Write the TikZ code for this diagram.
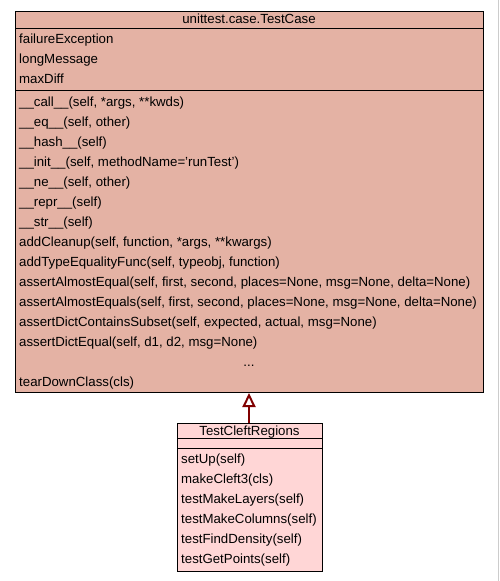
\documentclass[tikz,border=0pt]{standalone}
\usepackage{fontspec}
\setmainfont{Liberation Sans}
\usetikzlibrary{arrows.meta}
\definecolor{basefill}{RGB}{228,178,164}
\definecolor{subfill}{RGB}{255,214,214}
\definecolor{arrowred}{RGB}{128,0,0}
\begin{document}
\begin{tikzpicture}[x=1pt,y=-1pt,
  box/.style={draw=black, line width=1pt, rectangle, inner sep=0pt, anchor=north west},
  row/.style={anchor=base west, inner sep=0pt, font=\fontsize{13.25}{14}\selectfont},
  title/.style={anchor=base, inner sep=0pt, font=\fontsize{13.25}{14}\selectfont},
  inherit/.style={draw=arrowred, line width=2pt, -{Triangle[open, length=14pt, width=13pt, line width=2pt]}}]
\useasboundingbox (0,0) rectangle (499,581);
\fill[white] (0,0) rectangle (499,581);
\draw[gray!40, line width=1pt] (498.5,0) -- (498.5,581);
% base class
\node[box, fill=basefill, minimum width=468pt, minimum height=381pt] (base) at (15,11) {};
\draw[line width=1pt] (15,28) -- (483,28);
\draw[line width=1pt] (15,90) -- (483,90);
\node[title] (bt) at (249,23.5) {unittest.case.TestCase};
\foreach \t [count=\i] in {failureException,longMessage,maxDiff}
  \node[row] (ba\i) at (19,{23+20*\i}) {\t};
\node[row] (bm1) at (19,106) {\_\_call\_\_(self, *args, **kwds)};
\node[row] (bm2) at (19,126) {\_\_eq\_\_(self, other)};
\node[row] (bm3) at (19,146) {\_\_hash\_\_(self)};
\node[row] (bm4) at (19,166) {\_\_init\_\_(self, methodName='runTest')};
\node[row] (bm5) at (19,186) {\_\_ne\_\_(self, other)};
\node[row] (bm6) at (19,206) {\_\_repr\_\_(self)};
\node[row] (bm7) at (19,226) {\_\_str\_\_(self)};
\node[row] (bm8) at (19,246) {addCleanup(self, function, *args, **kwargs)};
\node[row] (bm9) at (19,266) {addTypeEqualityFunc(self, typeobj, function)};
\node[row] (bm10) at (19,286) {assertAlmostEqual(self, first, second, places=None, msg=None, delta=None)};
\node[row] (bm11) at (19,306) {assertAlmostEquals(self, first, second, places=None, msg=None, delta=None)};
\node[row] (bm12) at (19,326) {assertDictContainsSubset(self, expected, actual, msg=None)};
\node[row] (bm13) at (19,346) {assertDictEqual(self, d1, d2, msg=None)};
\node[title] (bdots) at (249,366) {...};
\node[row] (bm14) at (19,386) {tearDownClass(cls)};
% subclass
\node[box, fill=subfill, minimum width=145pt, minimum height=148pt] (sub) at (177,423) {};
\draw[line width=1pt] (177,438) -- (322,438);
\draw[line width=1pt] (177,448) -- (322,448);
\node[title] (st) at (249.5,435) {TestCleftRegions};
\node[row] (sm1) at (181,463) {setUp(self)};
\node[row] (sm2) at (181,483) {makeCleft3(cls)};
\node[row] (sm3) at (181,503) {testMakeLayers(self)};
\node[row] (sm4) at (181,523) {testMakeColumns(self)};
\node[row] (sm5) at (181,543) {testFindDensity(self)};
\node[row] (sm6) at (181,563) {testGetPoints(self)};
% inheritance
\draw[inherit] (sub.north -| 249,0) -- (base.south -| 249,0);
\end{tikzpicture}
\end{document}
